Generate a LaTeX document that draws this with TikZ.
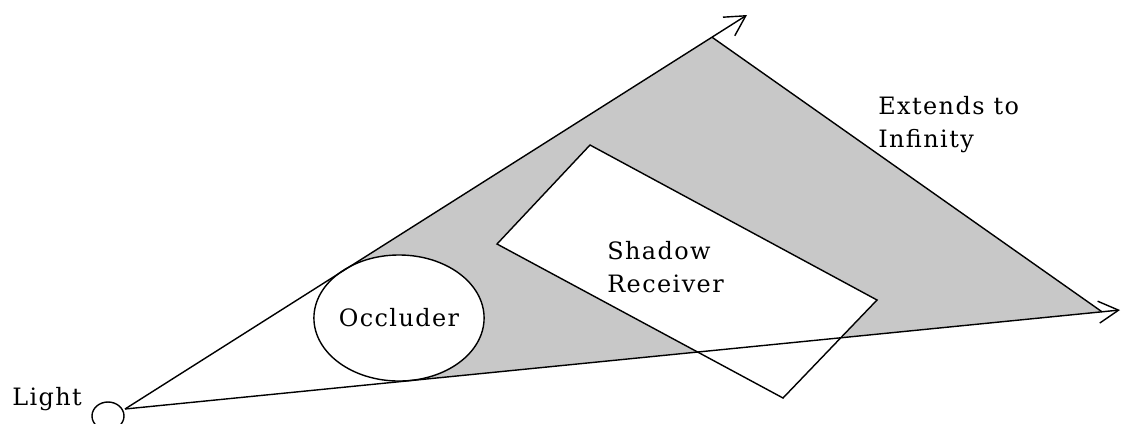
\documentclass[tikz,border=0pt]{standalone}
\usepackage{fontspec}
\newfontfamily\tagfont{DejaVu Serif}[LetterSpace=6]
\usetikzlibrary{arrows.meta,shapes.geometric}
\definecolor{shadowgray}{RGB}{200,200,200}

\begin{document}
\begin{tikzpicture}[
  x=0.025cm, y=-0.025cm,
  edge/.style={line width=1pt},
  ray/.style={line width=1pt, -{Straight Barb[length=5mm, width=5.5mm]}},
  txt/.style={font={\tagfont\fontsize{17}{23.3}\selectfont}, inner sep=0pt, align=left}
]
\useasboundingbox (0,0) rectangle (1123,423);
% light, ray ends and tangent points
\coordinate (light) at (125,409);
\coordinate (topTip) at (747,15);
\coordinate (rightTip) at (1120,310);
\coordinate (apex) at (712,37.2);
\coordinate (farEnd) at (1102,311.8);
\coordinate (tanTop) at (346,269.4);
\coordinate (tanBot) at (410,380.6);
% receiver corners
\coordinate (recTop) at (590,145);
\coordinate (recRight) at (877,300);
\coordinate (recBot) at (783,398);
\coordinate (recLeft) at (497,244);

\fill[shadowgray] (tanTop) -- (apex) -- (farEnd) -- (tanBot) -- cycle;
\node[draw, ellipse, edge, fill=white, minimum width=4.15cm, minimum height=3.15cm, txt] (occluder) at (399,318) {Occluder};
\draw[edge, fill=white] (recTop) -- (recRight) -- (recBot) -- (recLeft) -- cycle;
\draw[edge] (apex) -- (farEnd);
\draw[ray] (light) -- (topTip);
\draw[ray] (light) -- (rightTip);
\node[draw, ellipse, edge, minimum width=0.8cm, minimum height=0.7cm, inner sep=0pt] (lamp) at (108,416) {};

\node[txt, anchor=base west] (lightTag) at (12,405) {Light};
\node[txt, anchor=north west] (receiverTag) at (607,241) {Shadow\\Receiver};
\node[txt, anchor=north west] (infinityTag) at (878,96) {Extends to\\Infinity};
\end{tikzpicture}
\end{document}
